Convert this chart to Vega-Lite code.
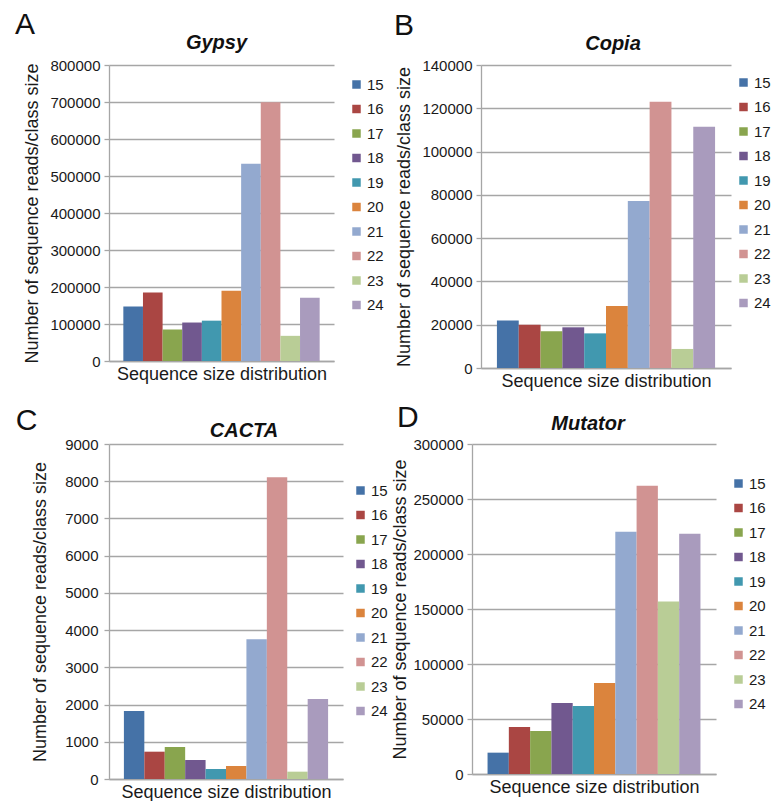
{
  "$schema": "https://vega.github.io/schema/vega-lite/v6.json",
  "background": "white",
  "padding": {"left": 14, "top": 10, "right": 0, "bottom": 0},
  "config": {
    "font": "Liberation Sans",
    "view": {"stroke": null},
    "axis": {
      "labelFont": "Liberation Sans", "titleFont": "Liberation Sans",
      "labelColor": "#1a1a1a", "titleColor": "#1a1a1a",
      "labelFontSize": 15, "titleFontSize": 18, "titleFontWeight": "normal",
      "gridColor": "#a6a6a6", "domainColor": "#a6a6a6", "tickColor": "#a6a6a6",
      "gridWidth": 1.3, "domainWidth": 1.3, "tickWidth": 1.3
    },
    "legend": {
      "labelFont": "Liberation Sans", "labelFontSize": 15, "labelColor": "#1a1a1a",
      "symbolType": "square", "symbolSize": 72, "symbolStrokeWidth": 0,
      "rowPadding": 8.5, "labelOffset": 3, "padding": 0, "title": null
    },
    "title": {"font": "Liberation Sans", "color": "#111"}
  },
  "datasets": {
    "gypsy": [
      {"size": "15", "reads": 147000}, {"size": "16", "reads": 185000}, {"size": "17", "reads": 85000},
      {"size": "18", "reads": 104000}, {"size": "19", "reads": 109000}, {"size": "20", "reads": 190000},
      {"size": "21", "reads": 533000}, {"size": "22", "reads": 699000}, {"size": "23", "reads": 68000},
      {"size": "24", "reads": 171000}
    ],
    "copia": [
      {"size": "15", "reads": 22000}, {"size": "16", "reads": 20000}, {"size": "17", "reads": 17000},
      {"size": "18", "reads": 18800}, {"size": "19", "reads": 16000}, {"size": "20", "reads": 28700},
      {"size": "21", "reads": 77200}, {"size": "22", "reads": 123000}, {"size": "23", "reads": 8800},
      {"size": "24", "reads": 111500}
    ],
    "cacta": [
      {"size": "15", "reads": 1825}, {"size": "16", "reads": 734}, {"size": "17", "reads": 859},
      {"size": "18", "reads": 510}, {"size": "19", "reads": 268}, {"size": "20", "reads": 349},
      {"size": "21", "reads": 3757}, {"size": "22", "reads": 8105}, {"size": "23", "reads": 197},
      {"size": "24", "reads": 2147}
    ],
    "mutator": [
      {"size": "15", "reads": 19400}, {"size": "16", "reads": 42800}, {"size": "17", "reads": 39100},
      {"size": "18", "reads": 64600}, {"size": "19", "reads": 61900}, {"size": "20", "reads": 82800},
      {"size": "21", "reads": 220200}, {"size": "22", "reads": 262100}, {"size": "23", "reads": 156800},
      {"size": "24", "reads": 218400}
    ]
  },
  "concat": [
    {
      "spacing": 9,
      "resolve": {"scale": {"color": "independent"}, "legend": {"color": "independent"}},
      "hconcat": [
        {
          "title": {"text": "A", "anchor": "start", "fontSize": 30, "fontWeight": "normal", "dx": -9, "offset": -7},
          "vconcat": [{
            "data": {"name": "gypsy"},
            "title": {"text": "Gypsy", "fontStyle": "italic", "fontWeight": "bold", "fontSize": 20, "offset": 5, "dx": -5},
            "width": 225, "height": 296,
            "mark": {"type": "bar"},
            "encoding": {
              "x": {"field": "size", "type": "nominal", "scale": {"paddingInner": 0, "paddingOuter": 0.73},
                    "axis": {"labels": false, "ticks": false, "title": "Sequence size distribution", "titlePadding": 4}},
              "y": {"field": "reads", "type": "quantitative", "scale": {"domain": [0, 800000]},
                    "axis": {"values": [0, 100000, 200000, 300000, 400000, 500000, 600000, 700000, 800000], "format": "d",
                             "title": "Number of sequence reads/class size", "tickSize": 5, "labelPadding": 4, "titlePadding": 8}},
              "color": {"field": "size", "type": "nominal",
                        "scale": {"domain": ["15","16","17","18","19","20","21","22","23","24"],
                                  "range": ["#4572A7","#AA4643","#89A54E","#71588F","#4198AF","#DB843D","#93A9CF","#D19392","#B9CD96","#A99BBD"]},
                        "legend": {"orient": "none", "legendX": 240, "legendY": 12}}
            }
          }]
        },
        {
          "title": {"text": "B", "anchor": "start", "fontSize": 30, "fontWeight": "normal", "dx": -2, "offset": -7},
          "vconcat": [{
            "data": {"name": "copia"},
            "title": {"text": "Copia", "fontStyle": "italic", "fontWeight": "bold", "fontSize": 20, "offset": 4, "dx": 7},
            "width": 250, "height": 303,
            "mark": {"type": "bar"},
            "encoding": {
              "x": {"field": "size", "type": "nominal", "scale": {"paddingInner": 0, "paddingOuter": 0.73},
                    "axis": {"labels": false, "ticks": false, "title": "Sequence size distribution", "titlePadding": 4}},
              "y": {"field": "reads", "type": "quantitative", "scale": {"domain": [0, 140000]},
                    "axis": {"values": [0, 20000, 40000, 60000, 80000, 100000, 120000, 140000], "format": "d",
                             "title": "Number of sequence reads/class size", "tickSize": 5, "labelPadding": 4, "titlePadding": 8}},
              "color": {"field": "size", "type": "nominal",
                        "scale": {"domain": ["15","16","17","18","19","20","21","22","23","24"],
                                  "range": ["#4572A7","#AA4643","#89A54E","#71588F","#4198AF","#DB843D","#93A9CF","#D19392","#B9CD96","#A99BBD"]},
                        "legend": {"orient": "none", "legendX": 255, "legendY": 10}}
            }
          }]
        }
      ]
    },
    {
      "spacing": 3,
      "resolve": {"scale": {"color": "independent"}, "legend": {"color": "independent"}},
      "hconcat": [
        {
          "title": {"text": "C", "anchor": "start", "fontSize": 30, "fontWeight": "normal", "dx": -16, "offset": -15},
          "vconcat": [{
            "data": {"name": "cacta"},
            "title": {"text": "CACTA", "fontStyle": "italic", "fontWeight": "bold", "fontSize": 20, "offset": -4, "dx": 18},
            "width": 234, "height": 335,
            "mark": {"type": "bar"},
            "encoding": {
              "x": {"field": "size", "type": "nominal", "scale": {"paddingInner": 0, "paddingOuter": 0.73},
                    "axis": {"labels": false, "ticks": false, "title": "Sequence size distribution", "titlePadding": 4}},
              "y": {"field": "reads", "type": "quantitative", "scale": {"domain": [0, 9000]},
                    "axis": {"values": [0, 1000, 2000, 3000, 4000, 5000, 6000, 7000, 8000, 9000], "format": "d",
                             "title": "Number of sequence reads/class size", "tickSize": 5, "labelPadding": 6, "titlePadding": 15}},
              "color": {"field": "size", "type": "nominal",
                        "scale": {"domain": ["15","16","17","18","19","20","21","22","23","24"],
                                  "range": ["#4572A7","#AA4643","#89A54E","#71588F","#4198AF","#DB843D","#93A9CF","#D19392","#B9CD96","#A99BBD"]},
                        "legend": {"orient": "none", "legendX": 244, "legendY": 39}}
            }
          }]
        },
        {
          "title": {"text": "D", "anchor": "start", "fontSize": 30, "fontWeight": "normal", "dx": 5, "offset": -19},
          "vconcat": [{
            "data": {"name": "mutator"},
            "title": {"text": "Mutator", "fontStyle": "italic", "fontWeight": "bold", "fontSize": 20, "offset": 3, "dx": -6},
            "width": 244, "height": 330,
            "mark": {"type": "bar"},
            "encoding": {
              "x": {"field": "size", "type": "nominal", "scale": {"paddingInner": 0, "paddingOuter": 0.73},
                    "axis": {"labels": false, "ticks": false, "title": "Sequence size distribution", "titlePadding": 4}},
              "y": {"field": "reads", "type": "quantitative", "scale": {"domain": [0, 300000]},
                    "axis": {"values": [0, 50000, 100000, 150000, 200000, 250000, 300000], "format": "d",
                             "title": "Number of sequence reads/class size", "tickSize": 5, "labelPadding": 4, "titlePadding": 3}},
              "color": {"field": "size", "type": "nominal",
                        "scale": {"domain": ["15","16","17","18","19","20","21","22","23","24"],
                                  "range": ["#4572A7","#AA4643","#89A54E","#71588F","#4198AF","#DB843D","#93A9CF","#D19392","#B9CD96","#A99BBD"]},
                        "legend": {"orient": "none", "legendX": 259, "legendY": 32}}
            }
          }]
        }
      ]
    }
  ],
  "columns": 1,
  "align": "none",
  "spacing": 13,
  "resolve": {"scale": {"color": "independent"}, "legend": {"color": "independent"}}
}
